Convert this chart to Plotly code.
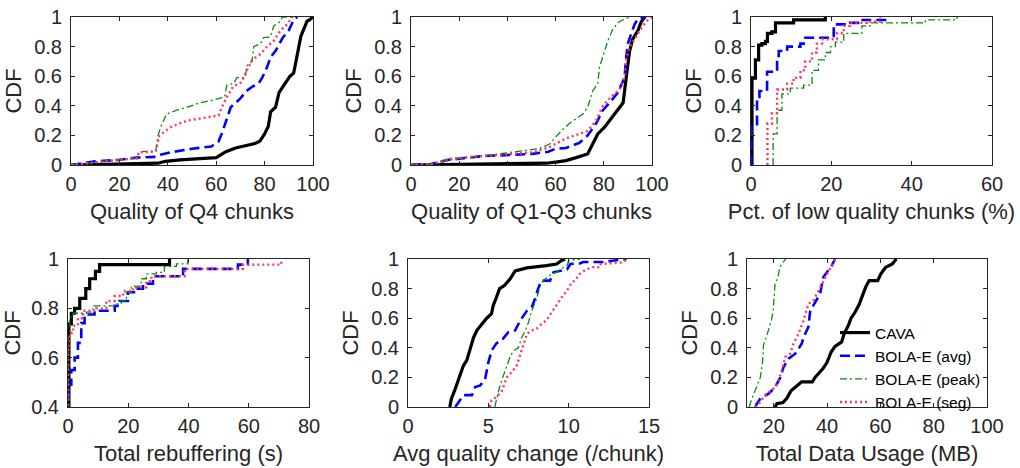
import plotly.graph_objects as go

# ---------------- data ----------------
series_names = ["CAVA", "BOLA-E (avg)", "BOLA-E (peak)", "BOLA-E (seg)"]

# Plot 1: Quality of Q4 chunks
q4_cava_x = [0, 10, 20, 30, 36, 39, 45, 55, 60, 62, 64, 68, 72, 76, 78, 80, 81.5, 82.5, 84.5, 86, 88, 90.5, 92, 93, 94, 95, 96.5, 97.5, 98.5, 100]
q4_cava_y = [0, 0.003, 0.007, 0.01, 0.012, 0.025, 0.035, 0.045, 0.05, 0.07, 0.09, 0.115, 0.13, 0.145, 0.16, 0.21, 0.26, 0.36, 0.39, 0.49, 0.54, 0.6, 0.62, 0.71, 0.8, 0.87, 0.93, 0.97, 0.98, 1.0]
q4_avg_x = [0, 5, 10, 20, 27, 35, 37, 41, 50, 58, 61, 62.5, 64, 66, 68, 70, 72.5, 75, 77.5, 79, 81, 82.5, 84.5, 86, 87.5, 90, 92, 93.5]
q4_avg_y = [0, 0.015, 0.025, 0.035, 0.05, 0.055, 0.07, 0.085, 0.11, 0.125, 0.16, 0.22, 0.3, 0.39, 0.42, 0.45, 0.5, 0.53, 0.55, 0.59, 0.66, 0.73, 0.77, 0.82, 0.86, 0.91, 0.98, 1.0]
q4_peak_x = [0, 10, 20, 27.5, 28, 35, 36, 37, 39.5, 43.6, 47.8, 53.3, 58.9, 63.5, 64.4, 67.2, 68.6, 72, 72.7, 74.8, 75.5, 78.3, 79.6, 82.4, 83.8, 86.6, 87.3, 93]
q4_peak_y = [0, 0.02, 0.04, 0.05, 0.09, 0.095, 0.2, 0.255, 0.345, 0.37, 0.39, 0.42, 0.44, 0.46, 0.54, 0.55, 0.59, 0.59, 0.67, 0.7, 0.8, 0.82, 0.86, 0.865, 0.94, 0.97, 1.0, 1.0]
q4_seg_x = [0, 10, 20, 27.5, 28, 35, 36.5, 39, 41, 48, 55, 61, 62.3, 64.4, 67, 70.5, 72.7, 74.8, 78.3, 81, 83.8, 86.6, 89.3, 91.4, 93]
q4_seg_y = [0, 0.02, 0.035, 0.045, 0.085, 0.09, 0.2, 0.23, 0.255, 0.3, 0.32, 0.335, 0.39, 0.46, 0.53, 0.56, 0.64, 0.71, 0.75, 0.8, 0.84, 0.91, 0.95, 1.0, 1.0]

# Plot 2: Quality of Q1-Q3 chunks
q13_cava_x = [0, 20, 40, 56, 60, 64.3, 68.5, 73.3, 74.7, 77.5, 80.3, 83, 85.8, 88, 89.3, 90.7, 92, 94.2, 95.6, 97]
q13_cava_y = [0, 0.005, 0.008, 0.012, 0.02, 0.03, 0.05, 0.075, 0.12, 0.21, 0.255, 0.31, 0.37, 0.42, 0.59, 0.77, 0.85, 0.91, 0.97, 1.0]
q13_avg_x = [0, 8, 11.5, 15.7, 29.6, 40.7, 50.4, 57, 60, 64.3, 69.9, 73.3, 76.8, 79.6, 82.4, 85.8, 88.6, 89.3, 90, 91.4, 92.8, 94.2, 97.6]
q13_avg_y = [0, 0.005, 0.02, 0.035, 0.06, 0.07, 0.075, 0.09, 0.11, 0.115, 0.15, 0.2, 0.28, 0.37, 0.42, 0.49, 0.59, 0.73, 0.82, 0.89, 0.95, 0.99, 1.0]
q13_peak_x = [0, 8, 14.3, 22.6, 36.5, 47.6, 53, 57.4, 60, 62.9, 65.7, 68.5, 71.3, 73.3, 75.4, 77.5, 78.2, 80.3, 81.7, 83.8, 86.5, 90.7]
q13_peak_y = [0, 0.005, 0.03, 0.05, 0.075, 0.1, 0.11, 0.14, 0.19, 0.24, 0.28, 0.31, 0.345, 0.39, 0.5, 0.55, 0.66, 0.77, 0.84, 0.92, 0.97, 1.0]
q13_seg_x = [0, 8, 11.5, 15.7, 25, 36.5, 50.4, 57.4, 64.3, 69.9, 73.3, 76.8, 79.6, 83, 86.5, 88.6, 89.3, 90.7, 92.8, 94.9, 97.6, 100]
q13_seg_y = [0, 0.005, 0.02, 0.04, 0.055, 0.07, 0.085, 0.12, 0.18, 0.21, 0.23, 0.3, 0.4, 0.46, 0.51, 0.59, 0.71, 0.8, 0.85, 0.91, 0.97, 1.0]

# Plot 3: Pct. of low quality chunks (step CDF)
low_cava_x = [0.25, 0.25, 1.1, 1.9, 2.7, 3.6, 4.1, 5.2, 6.1, 10.6, 18.5]
low_cava_y = [0, 0.586, 0.71, 0.81, 0.82, 0.835, 0.89, 0.90, 0.96, 0.98, 1.0]
low_avg_x = [0.1, 0.1, 1.5, 2.1, 4.0, 6.5, 6.9, 9.0, 12.3, 13.5, 20.6, 24.7, 27.2, 33.9]
low_avg_y = [0, 0.26, 0.46, 0.5, 0.63, 0.71, 0.77, 0.8, 0.82, 0.86, 0.95, 0.96, 0.98, 1.0]
low_peak_x = [5.5, 5.5, 6.5, 7.7, 9.8, 13.1, 15.2, 16.8, 18.5, 19.8, 21.0, 23.1, 27.6, 29.7, 43.4, 51.3]
low_peak_y = [0, 0.21, 0.37, 0.48, 0.52, 0.54, 0.64, 0.71, 0.76, 0.80, 0.83, 0.89, 0.94, 0.96, 0.98, 1.0]
low_seg_x = [4.1, 4.1, 5.2, 6.5, 9.0, 10.6, 12.3, 13.5, 15.2, 16.4, 17.7, 21.4, 23.1, 24.7, 28.9, 32.2]
low_seg_y = [0, 0.28, 0.35, 0.51, 0.55, 0.59, 0.64, 0.70, 0.76, 0.82, 0.85, 0.89, 0.94, 0.96, 0.97, 1.0]

# Plot 4: Total rebuffering (step CDF)
reb_cava_x = [0.3, 0.3, 1.1, 2.2, 3.9, 5.9, 7.2, 9.1, 10.5, 33.7]
reb_cava_y = [0, 0.737, 0.78, 0.80, 0.84, 0.88, 0.92, 0.95, 0.977, 1.0]
reb_avg_x = [0.2, 0.2, 1.1, 2.2, 3.3, 4.4, 5.5, 8.8, 15.5, 17.1, 19.9, 22.7, 24.9, 28.2, 38.2, 56.4, 59.7]
reb_avg_y = [0, 0.49, 0.55, 0.6, 0.66, 0.74, 0.775, 0.79, 0.81, 0.83, 0.865, 0.88, 0.9, 0.93, 0.96, 0.977, 1.0]
reb_peak_x = [0.1, 0.1, 0.6, 1.7, 6.1, 8.3, 16.0, 17.7, 19.4, 21.0, 24.3, 26.0, 29.3, 32.0, 36.0, 39.8]
reb_peak_y = [0, 0.683, 0.764, 0.78, 0.785, 0.81, 0.818, 0.83, 0.865, 0.89, 0.92, 0.94, 0.946, 0.97, 0.98, 1.0]
reb_seg_x = [0.1, 0.1, 0.6, 1.7, 3.3, 5.0, 9.4, 12.7, 15.5, 18.3, 21.6, 26.0, 27.7, 38.7, 58.0, 70.8]
reb_seg_y = [0, 0.635, 0.70, 0.73, 0.76, 0.79, 0.80, 0.83, 0.85, 0.87, 0.885, 0.91, 0.93, 0.96, 0.977, 0.995]

# Plot 5: Avg quality change
chg_cava_x = [2.6, 2.7, 2.9, 3.1, 3.25, 3.45, 3.66, 3.87, 4.08, 4.3, 4.6, 4.9, 5.2, 5.3, 5.5, 5.7, 6.0, 6.35, 6.67, 7.4, 8.6, 9.25, 9.56, 9.77]
chg_cava_y = [0, 0.056, 0.11, 0.17, 0.225, 0.28, 0.315, 0.39, 0.47, 0.52, 0.56, 0.6, 0.63, 0.685, 0.74, 0.8, 0.82, 0.865, 0.92, 0.94, 0.955, 0.966, 0.99, 1.0]
chg_avg_x = [2.94, 3.15, 3.46, 3.98, 4.18, 4.5, 4.8, 5.0, 5.2, 5.5, 5.9, 6.25, 6.67, 6.98, 7.4, 7.7, 7.9, 8.1, 8.3, 8.84, 9.05, 9.9, 10.1, 10.7, 10.9, 12.15, 13.6]
chg_avg_y = [0, 0.034, 0.08, 0.08, 0.135, 0.146, 0.19, 0.3, 0.38, 0.43, 0.46, 0.506, 0.517, 0.584, 0.65, 0.674, 0.73, 0.8, 0.854, 0.854, 0.91, 0.93, 0.966, 0.97, 0.98, 0.98, 1.0]
chg_peak_x = [5.4, 5.5, 5.7, 5.9, 6.15, 6.35, 6.56, 6.87, 7.08, 7.3, 7.5, 7.7, 8.0, 8.2, 8.4, 8.94, 9.25, 9.46, 9.9, 10.0, 10.7]
chg_peak_y = [0, 0.045, 0.135, 0.2, 0.27, 0.337, 0.38, 0.4, 0.47, 0.517, 0.573, 0.65, 0.73, 0.81, 0.854, 0.9, 0.91, 0.93, 0.955, 0.99, 1.0]
chg_seg_x = [5.1, 5.2, 5.5, 5.85, 6.15, 6.46, 6.77, 6.98, 7.2, 7.4, 7.7, 8.0, 8.3, 8.6, 8.94, 9.25, 9.56, 9.9, 10.2, 10.4, 10.7, 11.1, 11.5, 11.95, 12.0, 13.4, 13.6]
chg_seg_y = [0, 0.045, 0.067, 0.11, 0.2, 0.236, 0.28, 0.36, 0.427, 0.494, 0.517, 0.528, 0.56, 0.584, 0.64, 0.685, 0.74, 0.787, 0.843, 0.854, 0.9, 0.93, 0.944, 0.944, 0.966, 0.977, 1.0]

# Plot 6: Total data usage (MB)
data_cava_x = [20.5, 21.2, 23.5, 25, 26.5, 27.5, 29.5, 30.5, 34.5, 35.5, 37, 38.5, 40, 41.5, 43, 45.5, 46.5, 48, 49, 50.5, 52, 53.3, 54.5, 55.8, 59, 60.2, 62, 64.5, 66]
data_cava_y = [0, 0.022, 0.03, 0.06, 0.11, 0.124, 0.15, 0.17, 0.17, 0.2, 0.23, 0.26, 0.3, 0.37, 0.41, 0.44, 0.5, 0.55, 0.6, 0.64, 0.69, 0.76, 0.81, 0.854, 0.854, 0.9, 0.944, 0.966, 1.0]
data_avg_x = [13.1, 13.7, 15.0, 18.1, 20.6, 22.5, 23.7, 25.6, 28.1, 30.5, 31.2, 33.0, 33.7, 35.5, 37.4, 38.6, 39.9, 41.8, 43.0]
data_avg_y = [0, 0.022, 0.056, 0.09, 0.135, 0.2, 0.27, 0.326, 0.36, 0.427, 0.47, 0.54, 0.65, 0.71, 0.764, 0.876, 0.91, 0.955, 1.0]
data_peak_x = [10.8, 11.7, 13.6, 15.0, 15.8, 16.2, 17.3, 18.3, 19.2, 19.8, 20.5, 21.6, 22.3, 23.5, 24.5]
data_peak_y = [0, 0.05, 0.137, 0.2, 0.3, 0.42, 0.475, 0.53, 0.59, 0.65, 0.83, 0.876, 0.944, 0.977, 1.0]
data_seg_x = [13.1, 15.0, 16.8, 18.7, 20.6, 21.8, 23.1, 24.3, 26.2, 27.4, 29.3, 31.2, 33.0, 34.9, 36.8, 38.6, 40.5, 43.0]
data_seg_y = [0, 0.034, 0.08, 0.11, 0.135, 0.18, 0.247, 0.337, 0.36, 0.427, 0.494, 0.584, 0.697, 0.72, 0.787, 0.854, 0.92, 1.0]

x_titles = ["Quality of Q4 chunks", "Quality of Q1-Q3 chunks", "Pct. of low quality chunks (%)",
            "Total rebuffering (s)", "Avg quality change (/chunk)", "Total Data Usage (MB)"]
y_title = "CDF"

panels = [
    dict(series=[(q4_cava_x, q4_cava_y), (q4_avg_x, q4_avg_y), (q4_peak_x, q4_peak_y), (q4_seg_x, q4_seg_y)],
         shape="linear", xr=[0, 100], xt=[0, 20, 40, 60, 80, 100], yr=[0, 1], yt=[0, 0.2, 0.4, 0.6, 0.8, 1]),
    dict(series=[(q13_cava_x, q13_cava_y), (q13_avg_x, q13_avg_y), (q13_peak_x, q13_peak_y), (q13_seg_x, q13_seg_y)],
         shape="linear", xr=[0, 100], xt=[0, 20, 40, 60, 80, 100], yr=[0, 1], yt=[0, 0.2, 0.4, 0.6, 0.8, 1]),
    dict(series=[(low_cava_x, low_cava_y), (low_avg_x, low_avg_y), (low_peak_x, low_peak_y), (low_seg_x, low_seg_y)],
         shape="hv", xr=[0, 60], xt=[0, 20, 40, 60], yr=[0, 1], yt=[0, 0.2, 0.4, 0.6, 0.8, 1]),
    dict(series=[(reb_cava_x, reb_cava_y), (reb_avg_x, reb_avg_y), (reb_peak_x, reb_peak_y), (reb_seg_x, reb_seg_y)],
         shape="hv", xr=[0, 80], xt=[0, 20, 40, 60, 80], yr=[0.4, 1], yt=[0.4, 0.6, 0.8, 1]),
    dict(series=[(chg_cava_x, chg_cava_y), (chg_avg_x, chg_avg_y), (chg_peak_x, chg_peak_y), (chg_seg_x, chg_seg_y)],
         shape="linear", xr=[0, 15], xt=[0, 5, 10, 15], yr=[0, 1], yt=[0, 0.2, 0.4, 0.6, 0.8, 1]),
    dict(series=[(data_cava_x, data_cava_y), (data_avg_x, data_avg_y), (data_peak_x, data_peak_y), (data_seg_x, data_seg_y)],
         shape="linear", xr=[10, 100], xt=[20, 40, 60, 80, 100], yr=[0, 1], yt=[0, 0.2, 0.4, 0.6, 0.8, 1]),
]

# ---------------- styling ----------------
W, H = 1020, 468
styles = [
    dict(color="#000000", width=3.2, dash="solid"),
    dict(color="#0000ff", width=2.6, dash="10px,5px"),
    dict(color="#0a8a0a", width=1.3, dash="7px,3px,2px,3px"),
    dict(color="#ff3366", width=2.4, dash="2px,3px"),
]
# pixel frames in the screenshot (left, right, top, bottom)
frames = [(71, 313, 17, 165), (411, 652, 17, 165), (751, 992, 17, 165),
          (68, 309, 259, 407), (408, 649, 259, 407), (747, 987, 259, 407)]

FONT = "Liberation Sans, Arial, sans-serif"
TXT = "#262626"

fig = go.Figure()
layout = {}
for i, p in enumerate(panels):
    n = i + 1
    xa = "x" if n == 1 else f"x{n}"
    ya = "y" if n == 1 else f"y{n}"
    for j, (xs, ys) in enumerate(p["series"]):
        st = styles[j]
        fig.add_trace(go.Scatter(
            x=xs, y=ys, mode="lines", xaxis=xa, yaxis=ya,
            name=series_names[j], showlegend=(n == 6),
            line=dict(color=st["color"], width=st["width"], dash=st["dash"], shape=p["shape"]),
        ))
    l, r, t, b = frames[i]
    common = dict(showline=True, linecolor=TXT, linewidth=1, mirror="ticks",
                  ticks="inside", ticklen=4, tickcolor=TXT, tickwidth=1,
                  showgrid=False, zeroline=False, automargin=False,
                  ticklabeloverflow="allow",
                  tickfont=dict(family=FONT, size=20, color=TXT))
    layout["xaxis" if n == 1 else f"xaxis{n}"] = dict(
        common, domain=[l / W, r / W], range=p["xr"], tickvals=p["xt"],
        anchor=ya, ticklabelstandoff=1,
        title=dict(text=x_titles[i], font=dict(family=FONT, size=22, color=TXT), standoff=9))
    layout["yaxis" if n == 1 else f"yaxis{n}"] = dict(
        common, domain=[1 - b / H, 1 - t / H], range=p["yr"], tickvals=p["yt"],
        ticktext=[("%g" % v) for v in p["yt"]], anchor=xa, ticklabelstandoff=4,
        title=dict(text=y_title, font=dict(family=FONT, size=22, color=TXT), standoff=6))

fig.update_layout(
    width=W, height=H, margin=dict(l=0, r=0, t=0, b=0, autoexpand=False),
    paper_bgcolor="white", plot_bgcolor="white",
    font=dict(family=FONT, color=TXT),
    legend=dict(x=835 / W, y=1 - 316 / H, xanchor="left", yanchor="top",
                bgcolor="rgba(0,0,0,0)", borderwidth=0,
                font=dict(family=FONT, size=15.5, color="#000000"),
                tracegroupgap=0, itemwidth=30),
    **layout,
)

# remove the default 8px page margin so the figure fills the window exactly
fig.write_html("out.html", config={"displayModeBar": False},
               post_script="document.body.style.margin='0';document.body.style.overflow='hidden';")
